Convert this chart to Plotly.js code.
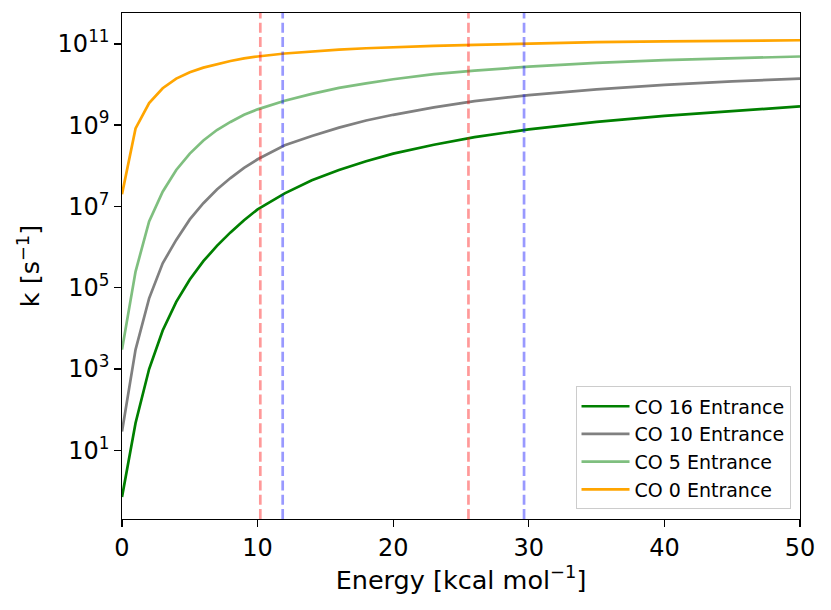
<!DOCTYPE html>
<html>
<head>
<meta charset="utf-8">
<script src="https://cdn.plot.ly/plotly-3.0.1.min.js"></script>
<style>
  html, body { margin: 0; padding: 0; background: #fff; }
  #plot { width: 831px; height: 610px; }
</style>
</head>
<body>
<div id="plot"></div>
<script>
// energies [kcal/mol] and rate constants k [1/s]
const energy = [0, 1, 2, 3, 4, 5, 6, 7, 8, 9, 10, 12, 14, 16, 18, 20, 23, 26, 30, 35, 40, 45, 50];

const kCO16 = [0.71, 47, 1.0e3, 8.9e3, 4.5e4, 1.6e5, 4.5e5, 1.07e6, 2.3e6, 4.6e6, 8.5e6,
  2.1e7, 4.4e7, 7.9e7, 1.3e8, 2.0e8, 3.3e8, 5.1e8, 7.9e8, 1.2e9, 1.7e9, 2.2e9, 2.9e9];
const kCO10 = [29, 3.0e3, 5.5e4, 4.0e5, 1.5e6, 4.8e6, 1.2e7, 2.6e7, 5.0e7, 8.9e7, 1.45e8,
  3.2e8, 5.4e8, 8.7e8, 1.3e9, 1.8e9, 2.75e9, 3.9e9, 5.5e9, 7.6e9, 9.8e9, 1.2e10, 1.4e10];
const kCO5 = [3.0e3, 2.5e5, 4.3e6, 2.3e7, 7.9e7, 2.0e8, 4.2e8, 7.6e8, 1.2e9, 1.8e9, 2.45e9,
  4.0e9, 5.9e9, 8.3e9, 1.07e10, 1.35e10, 1.8e10, 2.2e10, 2.75e10, 3.4e10, 4.0e10, 4.5e10, 4.9e10];
const kCO0 = [2.0e7, 8.3e8, 3.5e9, 8.1e9, 1.4e10, 2.0e10, 2.6e10, 3.2e10, 3.8e10, 4.4e10, 4.9e10,
  5.8e10, 6.6e10, 7.2e10, 7.8e10, 8.3e10, 8.9e10, 9.5e10, 1.02e11, 1.1e11, 1.15e11, 1.2e11, 1.23e11];

const seriesNames = ['CO 16 Entrance', 'CO 10 Entrance', 'CO 5 Entrance', 'CO 0 Entrance'];

// vertical reference energies
const redLines = [10.2, 25.55];
const blueLines = [11.85, 29.65];

const xTicks = [0, 10, 20, 30, 40, 50];
const yTickVals = [1e1, 1e3, 1e5, 1e7, 1e9, 1e11];
const yTickText = ['10<sup>1</sup>', '10<sup>3</sup>', '10<sup>5</sup>', '10<sup>7</sup>', '10<sup>9</sup>', '10<sup>11</sup>'];

const colors = ['#008000', '#808080', 'rgba(0,128,0,0.5)', '#ffa500'];
const series = [kCO16, kCO10, kCO5, kCO0];

const data = series.map((k, i) => ({
  type: 'scatter', mode: 'lines', name: seriesNames[i],
  x: energy, y: k,
  line: { color: colors[i], width: 2.7 }
}));

const vline = (x, color) => ({
  type: 'line', xref: 'x', yref: 'paper', x0: x, x1: x, y0: 0, y1: 1,
  line: { color, width: 2.7, dash: '10px,4.3px' }
});
const shapes = [
  ...redLines.map(x => vline(x, 'rgba(255,0,0,0.4)')),
  ...blueLines.map(x => vline(x, 'rgba(0,0,255,0.4)'))
];

const font = 'DejaVu Sans, sans-serif';

const layout = {
  width: 831, height: 610,
  margin: { l: 122, r: 31, t: 13, b: 91 },
  paper_bgcolor: '#fff', plot_bgcolor: '#fff',
  font: { family: font, color: '#000' },
  showlegend: true,
  legend: {
    x: 0.986, y: 0.019, xanchor: 'right', yanchor: 'bottom',
    bgcolor: 'rgba(255,255,255,0.8)', bordercolor: '#cccccc', borderwidth: 1,
    font: { family: font, size: 19, color: '#000' },
    itemwidth: 48
  },
  xaxis: {
    range: [0, 50], tickvals: xTicks,
    showgrid: false, zeroline: false,
    showline: true, linecolor: '#000', linewidth: 1.4, mirror: true,
    ticks: 'outside', ticklen: 6.3, tickwidth: 1.4, tickcolor: '#000',
    tickfont: { family: font, size: 24 },
    title: { text: 'Energy [kcal mol<sup>−1</sup>]', font: { family: font, size: 25.5 }, standoff: 8 }
  },
  yaxis: {
    type: 'log', range: [-0.69, 11.76],
    tickvals: yTickVals, ticktext: yTickText,
    showgrid: false, zeroline: false,
    showline: true, linecolor: '#000', linewidth: 1.4, mirror: true,
    ticks: 'outside', ticklen: 6.3, tickwidth: 1.4, tickcolor: '#000',
    tickfont: { family: font, size: 24 },
    title: { text: 'k [s<sup>−1</sup>]', font: { family: font, size: 25.5 }, standoff: 10 }
  },
  shapes
};

Plotly.newPlot('plot', data, layout, { displayModeBar: false, staticPlot: true });
</script>
</body>
</html>
